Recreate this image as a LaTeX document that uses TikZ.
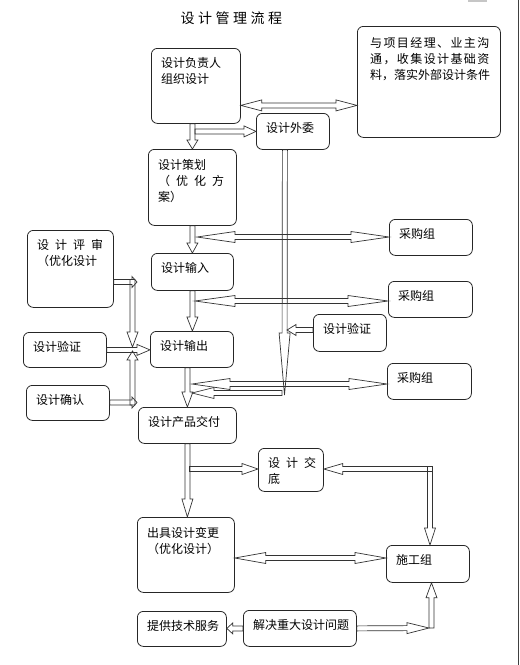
\documentclass[tikz,border=0pt]{standalone}
\usepackage{fontspec}
\setmainfont{Noto Sans CJK SC}
\usetikzlibrary{calc}

% spread the characters of #2 by #1
\newcommand{\spaced}[2]{\def\spk{#1}\spacedloop#2\relax}
\newcommand{\spacedloop}[1]{\ifx#1\relax\else#1\kern\spk\expandafter\spacedloop\fi}

% hollow block arrow: [head length]{from}{tip}
\newcommand{\hollowarrow}[3][10]{%
  \coordinate (bh) at ($(#3)!#1pt!(#2)$);
  \draw[blockarr] ($(#2)!2.5pt!90:(#3)$) -- ($(bh)!2.5pt!90:(#3)$) -- ($(bh)!5.5pt!90:(#3)$) -- (#3)
    -- ($(bh)!5.5pt!-90:(#3)$) -- ($(bh)!2.5pt!-90:(#3)$) -- ($(#2)!2.5pt!-90:(#3)$) -- cycle;}
% hollow block arrow with a head at both ends
\newcommand{\hollowdouble}[3][20]{%
  \coordinate (bh1) at ($(#2)!#1pt!(#3)$);
  \coordinate (bh2) at ($(#3)!#1pt!(#2)$);
  \draw[blockarr] (#2) -- ($(bh1)!5.5pt!90:(#3)$) -- ($(bh1)!2.5pt!90:(#3)$) -- ($(bh2)!2.5pt!90:(#3)$)
    -- ($(bh2)!5.5pt!90:(#3)$) -- (#3) -- ($(bh2)!5.5pt!-90:(#3)$) -- ($(bh2)!2.5pt!-90:(#3)$)
    -- ($(bh1)!2.5pt!-90:(#3)$) -- ($(bh1)!5.5pt!-90:(#3)$) -- cycle;}

\begin{document}
\begin{tikzpicture}[x=1pt, y=-1pt,
  flowbox/.style={draw=black!85, line width=0.8pt, rounded corners=6pt, anchor=north west, inner sep=0pt},
  txt/.style={anchor=north west, align=left, inner sep=0pt, xshift=10pt, yshift=-9pt, font=\fontsize{12}{16}\selectfont},
  blockarr/.style={draw=black!80, line width=0.7pt}]
  \useasboundingbox (0,0) rectangle (520,665);
  \fill[gray!45] (468,0) rectangle (487,2);
  \draw[black!75, line width=1pt] (518,0) -- (518,665);

  \node[font=\fontsize{14}{16}\selectfont] (title) at (233,18) {\spaced{3.5pt}{设计管理流程}};

  % main column
  \node[flowbox, minimum width=89pt, minimum height=75pt, label={[txt]north west:{设计负责人\\组织设计}}] (fzr) at (151,48) {};
  \node[flowbox, minimum width=143pt, minimum height=111pt, label={[txt, xshift=3pt, yshift=-2.5pt]north west:{\spaced{1.4pt}{与项目经理、业主沟}\\\spaced{1.4pt}{通，收集设计基础资}\\料，落实外部设计条件}}] (wb) at (357,26) {};
  \node[flowbox, minimum width=73pt, minimum height=36pt, label={[txt]north west:{设计外委}}] (wq) at (256,113) {};
  \node[flowbox, minimum width=88pt, minimum height=76pt, label={[txt, yshift=-1pt]north west:{设计策划\\\spaced{6pt}{（优化方}\\案）}}] (ch) at (148,149) {};
  \node[flowbox, minimum width=82pt, minimum height=37pt, label={[txt]north west:{设计输入}}] (sr) at (151,253) {};
  \node[flowbox, minimum width=83pt, minimum height=36pt, label={[txt]north west:{设计输出}}] (sc) at (150,331) {};
  \node[flowbox, minimum width=98pt, minimum height=36pt, label={[txt]north west:{设计产品交付}}] (jf) at (138,407) {};
  \node[flowbox, minimum width=65pt, minimum height=43pt, label={[txt]north west:{\spaced{6pt}{设计交}\\底}}] (jd) at (258,448) {};
  \node[flowbox, minimum width=97pt, minimum height=75pt, label={[txt, yshift=-1pt]north west:{出具设计变更\\（优化设计）}}] (bg) at (137,517) {};
  \node[flowbox, minimum width=83pt, minimum height=37pt, label={[txt]north west:{施工组}}] (sg) at (386,545) {};
  \node[flowbox, minimum width=89pt, minimum height=35pt, label={[txt]north west:{提供技术服务}}] (fw) at (137,611) {};
  \node[flowbox, minimum width=113pt, minimum height=36pt, label={[txt]north west:{解决重大设计问题}}] (wt) at (243,610) {};

  % left side
  \node[flowbox, minimum width=86pt, minimum height=77pt, label={[txt]north west:{\spaced{6pt}{设计评审}\\（优化设计}}] (ps) at (27,230) {};
  \node[flowbox, minimum width=83pt, minimum height=35pt, label={[txt]north west:{设计验证}}] (yz1) at (23,332) {};
  \node[flowbox, minimum width=83pt, minimum height=35pt, label={[txt]north west:{设计确认}}] (qr) at (26,385) {};

  % right side
  \node[flowbox, minimum width=83pt, minimum height=36pt, label={[txt]north west:{采购组}}] (cg1) at (389,219) {};
  \node[flowbox, minimum width=84pt, minimum height=36pt, label={[txt]north west:{采购组}}] (cg2) at (388,281) {};
  \node[flowbox, minimum width=73pt, minimum height=37pt, label={[txt]north west:{设计验证}}] (yz2) at (313,314) {};
  \node[flowbox, minimum width=84pt, minimum height=36pt, label={[txt]north west:{采购组}}] (cg3) at (387,363) {};

  % connection points
  \coordinate (c1) at ($(wq.west -| ch.north)+(2.5,0)$);
  \coordinate (c2) at ($(wq.south)+(-8,0)$);
  \coordinate (c3) at (284.5,395);
  \coordinate (c4) at (197,237);
  \coordinate (c5) at (195,301);
  \coordinate (c6) at (287,330);
  \coordinate (c7) at (192,384);
  \coordinate (c8) at (282,393);
  \coordinate (k1) at (137,282);
  \coordinate (k2) at (132.5,279.5);
  \coordinate (k3) at (132.5,347);
  \coordinate (k4) at (137,402.5);
  \coordinate (k5) at (132.5,405);
  \coordinate (k6) at (132.5,351);
  \coordinate (n1) at (189.5,469);
  \coordinate (n2) at (432.5,469);
  \coordinate (n3) at (430,466.5);
  \coordinate (n4) at (429,628);
  \coordinate (n5) at (431.5,628);
  \coordinate (m2) at (300,558);

  \hollowdouble[21]{$(fzr.east)+(0,19.5)$}{$(wb.west)+(0,23.5)$}
  \hollowarrow[9]{fzr.south -| ch.north}{ch.north}
  \hollowarrow[12]{c1}{wq.west}
  \hollowarrow[62]{c2}{c3}
  \hollowdouble[38]{c4}{c4 -| cg1.west}
  \hollowarrow[10]{ch.south}{sr.north}
  \hollowdouble[40]{c5}{c5 -| cg2.west}
  \hollowarrow[14]{sr.south}{sr.south |- sc.north}
  \hollowarrow[9]{c6 -| yz2.west}{c6}
  \hollowdouble[38]{c7}{c7 -| cg3.west}
  \hollowarrow[22]{c8}{c8 -| c7}
  \hollowarrow[15]{sc.south -| jf.north}{jf.north}
  \hollowarrow[5]{k1 -| ps.east}{k1}
  \hollowarrow[15]{k2}{k3}
  \hollowarrow[13]{yz1.east}{yz1.east -| sc.west}
  \hollowarrow[5]{k4 -| qr.east}{k4}
  \hollowarrow[9]{k5}{k6}
  \hollowarrow[18]{jf.south}{jf.south |- bg.north}
  \hollowarrow[16]{n1}{n1 -| jd.west}
  \hollowarrow[19]{n2}{n2 -| jd.east}
  \hollowarrow[17]{n3}{n3 |- sg.north}
  \hollowdouble[31]{m2 -| bg.east}{m2 -| sg.west}
  \hollowarrow[6]{wt.west}{wt.west -| fw.east}
  \hollowarrow[22]{wt.east}{n4}
  \hollowarrow[15]{n5}{n5 |- sg.south}
\end{tikzpicture}
\end{document}
